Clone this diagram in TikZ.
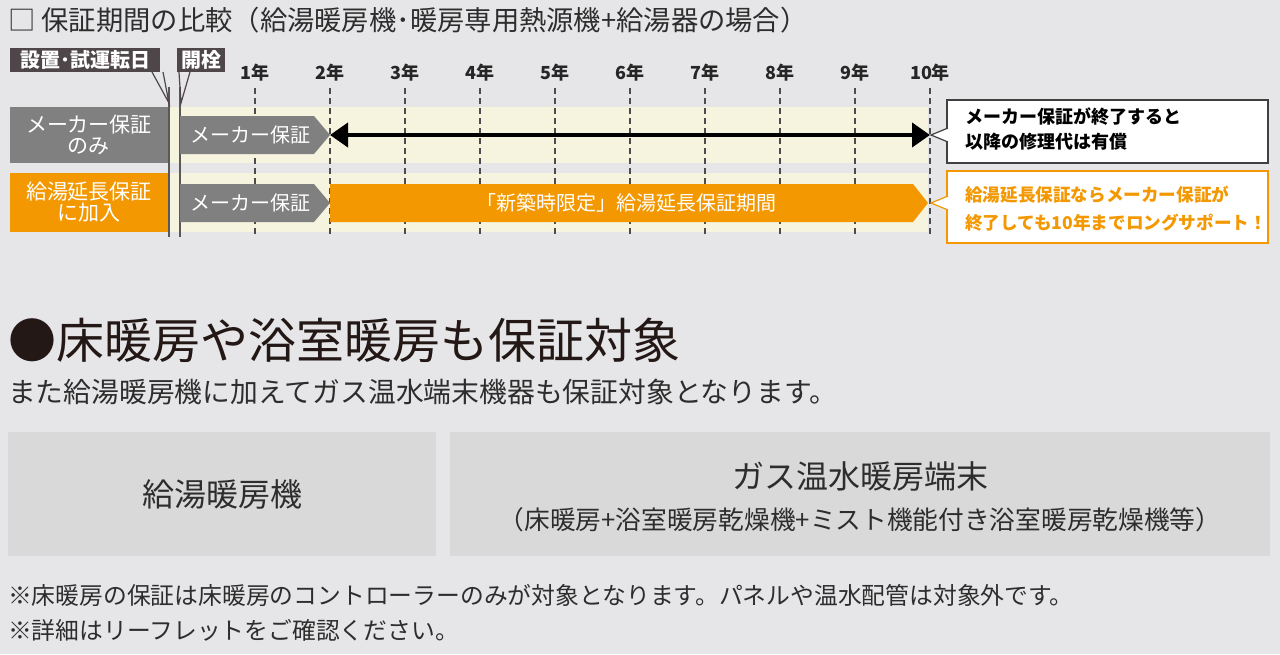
\documentclass[tikz,border=0pt]{standalone}
\usepackage{fontspec}
\setmainfont{Noto Sans CJK JP}
\usepackage{tikz}
\usetikzlibrary{arrows.meta,positioning}
\pgfdeclarelayer{bglayer}
\pgfdeclarelayer{edgelayer}
\pgfdeclarelayer{nodelayer}
\pgfsetlayers{bglayer,edgelayer,nodelayer,main}
\definecolor{bggray}{RGB}{230,230,232}
\definecolor{bandyellow}{RGB}{246,244,222}
\definecolor{midgray}{RGB}{128,128,128}
\definecolor{wornorange}{RGB}{243,152,0}
\definecolor{tagdark}{RGB}{78,70,72}
\definecolor{panelgray}{RGB}{217,217,217}
\definecolor{inkdark}{RGB}{35,24,21}
\definecolor{textgray}{RGB}{45,45,45}
\newcommand{\pxfont}[1]{\fontsize{#1}{#1}\selectfont}
\tikzstyle{none}=[inner sep=0pt]
\tikzstyle{tag}=[rectangle,fill=tagdark,text=white,font=\bfseries\pxfont{20},inner sep=0pt,minimum height=24]
\tikzstyle{yearlabel}=[inner sep=0pt,text=black!85,font=\bfseries\pxfont{18}]
\tikzstyle{yeartick}=[-,draw=black!70,line width=1.5,dash pattern=on 6pt off 4pt]
\tikzstyle{startline}=[-,draw=black!65,line width=1.5]
\tikzstyle{pointer}=[-,draw=tagdark,line width=1.2]
\tikzstyle{rowlabel}=[rectangle,text=white,align=center,font=\fontsize{21}{21}\selectfont,minimum width=158,inner sep=0pt]
\tikzstyle{bartext}=[inner sep=0pt,text=white,font=\pxfont{20}]
\tikzstyle{span}=[{Triangle[length=18pt,width=24pt]}-{Triangle[length=18pt,width=24pt]},draw=black,line width=4]
\tikzstyle{callout}=[rectangle,fill=white,line width=2,minimum width=321,inner sep=0pt]
\tikzstyle{callouttext}=[inner sep=0pt,anchor=west,align=left]
\tikzstyle{notch}=[-,line width=1.2]
\tikzstyle{panel}=[rectangle,fill=panelgray,minimum height=124,inner sep=0pt,text=textgray]
\tikzstyle{plain}=[inner sep=0pt,anchor=west,text=textgray]

\begin{document}
\begin{tikzpicture}[x=1pt,y=-1pt]
	\begin{pgfonlayer}{bglayer}
		\fill [bggray] (0,0) rectangle (1280,654);
		\fill [bandyellow] (167,107) rectangle (928,163);
		\fill [bandyellow] (167,173) rectangle (928,232);
	\end{pgfonlayer}
	\useasboundingbox (0,0) rectangle (1280,654);
	\begin{pgfonlayer}{nodelayer}
		\node [style=none, anchor=west, text=textgray, font=\pxfont{27.3}] (Title) at (8,20) {□ 保証期間の比較（給湯暖房機･暖房専用熱源機+給湯器の場合）};
		\node [style=tag, minimum width=150] (Setchi) at (85,60) {設置･試運転日};
		\node [style=tag, minimum width=48] (Kaisen) at (201,60) {開栓};
		\foreach \n in {1,...,10}
			\node [style=yearlabel] (Y\n) at ({180+75*\n},73) {\n{}年};
		\node [style=rowlabel, fill=midgray, minimum height=56] (OnlyMaker) at (89,135) {メーカー保証\\のみ};
		\node [style=rowlabel, fill=wornorange, minimum height=59] (Extended) at (89,202.5) {給湯延長保証\\に加入};
		\node [style=bartext] (MakerA) at (250,135) {メーカー保証};
		\node [style=bartext] (MakerB) at (250,203) {メーカー保証};
		\node [style=bartext] (Shinchiku) at (626,203) {「新築時限定」給湯延長保証期間};
		\node [style=callout, draw=black!75, minimum height=63] (PaidNote) at (1107.5,131.5) {};
		\node [style=callouttext, font=\bfseries\fontsize{18}{25}\selectfont] (PaidText) at (965,129) {メーカー保証が終了すると\\以降の修理代は有償};
		\node [style=callout, draw=wornorange, minimum height=72] (LongNote) at (1107.5,206.5) {};
		\node [style=callouttext, text=wornorange, font=\bfseries\fontsize{17.6}{28}\selectfont] (LongText) at (965,209) {給湯延長保証ならメーカー保証が\\終了しても10年までロングサポート！};
		\node [style=none, anchor=west, text=inkdark, font=\pxfont{48}] (Heading) at (8,340) {●床暖房や浴室暖房も保証対象};
		\node [style=plain, font=\pxfont{27.8}] (Lead) at (8,392) {また給湯暖房機に加えてガス温水端末機器も保証対象となります。};
		\node [style=panel, minimum width=428, font=\pxfont{32}] (Unit) at (222,494) {給湯暖房機};
		\node [style=panel, minimum width=820] (Terminal) at (860,494) {};
		\node [style=none, text=textgray, font=\pxfont{32}] (TerminalName) at (860,476) {ガス温水暖房端末};
		\node [style=none, text=textgray, font=\pxfont{25.7}] (TerminalSub) at (860,520) {（床暖房+浴室暖房乾燥機+ミスト機能付き浴室暖房乾燥機等）};
		\node [style=plain, font=\pxfont{23.8}] (NoteA) at (8,595) {※床暖房の保証は床暖房のコントローラーのみが対象となります。パネルや温水配管は対象外です。};
		\node [style=plain, font=\pxfont{23.8}] (NoteB) at (8,630) {※詳細はリーフレットをご確認ください。};
		\coordinate (SetTop) at (169,87);
		\coordinate (SetBot) at (169,237);
		\coordinate (OpenTop) at (180,87);
		\coordinate (OpenBot) at (180,237);
		\coordinate (SetL) at (152,72);
		\coordinate (SetR) at (163,72);
		\coordinate (SetTip) at (169,103);
		\coordinate (OpenL) at (179,72);
		\coordinate (OpenR) at (190,72);
		\coordinate (OpenTip) at (181,103);
		\coordinate (From2) at (330,135);
		\coordinate (To10) at (930,135);
		\coordinate (PaidA) at (948,128);
		\coordinate (PaidB) at (948,142);
		\coordinate (LongA) at (948,196);
		\coordinate (LongB) at (948,210);
		\coordinate (Tip10a) at (931,135);
		\coordinate (Tip10b) at (931,203);
	\end{pgfonlayer}
	\begin{pgfonlayer}{edgelayer}
		\foreach \n in {1,...,10}
			\draw [style=yeartick] ({180+75*\n},88) to ({180+75*\n},237);
		\draw [style=startline] (SetTop) to (SetBot);
		\draw [style=startline] (OpenTop) to (OpenBot);
		\draw [style=pointer] (SetL) to (SetTip) to (SetR);
		\draw [style=pointer] (OpenL) to (OpenTip) to (OpenR);
		\fill [midgray] (180,116) -- (314,116) -- (330,135) -- (314,154) -- (180,154) -- cycle;
		\fill [midgray] (180,184) -- (314,184) -- (330,203) -- (314,222) -- (180,222) -- cycle;
		\fill [wornorange] (330,184) -- (913,184) -- (928,203) -- (913,222) -- (330,222) -- cycle;
		\draw [style=span] (From2) to (To10);
	\end{pgfonlayer}
	\fill [white] (PaidA) -- (Tip10a) -- (PaidB) -- cycle;
	\draw [style=notch, draw=black!75] (PaidA) to (Tip10a) to (PaidB);
	\fill [white] (LongA) -- (Tip10b) -- (LongB) -- cycle;
	\draw [style=notch, draw=wornorange] (LongA) to (Tip10b) to (LongB);
\end{tikzpicture}
\end{document}
